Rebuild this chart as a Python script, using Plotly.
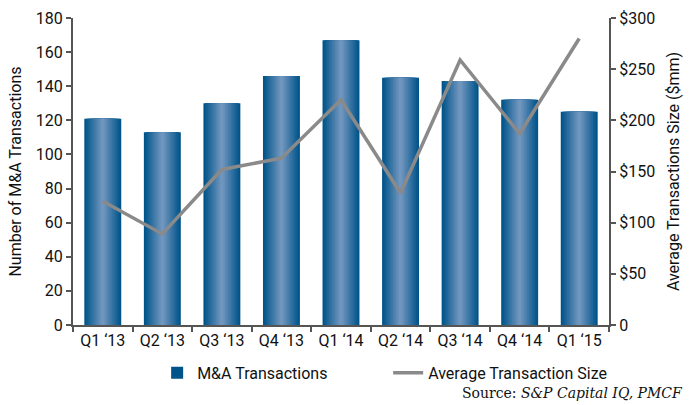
import plotly.graph_objects as go
from plotly.subplots import make_subplots

categories = ["Q1 \u201813", "Q2 \u201813", "Q3 \u201813", "Q4 \u201813", "Q1 \u201814",
              "Q2 \u201814", "Q3 \u201814", "Q4 \u201814", "Q1 \u201815"]
transactions = [121, 113, 130, 146, 167, 145, 143, 132, 125]
avg_size = [121, 89, 152, 163, 220, 129, 259, 187, 280]

left_ticks = [0, 20, 40, 60, 80, 100, 120, 140, 160, 180]
right_ticks = [0, 50, 100, 150, 200, 250, 300]
right_labels = ["0", "$50", "$100", "$150", "$200", "$250", "$300"]

FONT = "Roboto, sans-serif"

fig = make_subplots(specs=[[{"secondary_y": True}]])

dark = (0, 84, 138)
light = (112, 150, 190)
N = 12
W = 0.62
for i in range(N):
    t = i / (N - 1)
    c = tuple(round(dark[k] + (light[k] - dark[k]) * t) for k in range(3))
    fig.add_trace(go.Bar(
        x=categories, y=transactions,
        width=W * (1 - i / N),
        marker=dict(color="rgb(%d,%d,%d)" % c, line=dict(width=0)),
        name="M&A Transactions", showlegend=(i == 0), legendgroup="bars",
        hoverinfo="skip" if i else None,
    ), secondary_y=False)

fig.add_trace(go.Scatter(
    x=categories, y=avg_size, mode="lines",
    line=dict(color="#8a8a8a", width=3.5),
    name="Average Transaction Size",
), secondary_y=True)

fig.update_layout(
    width=700, height=405,
    margin=dict(l=73, r=91, t=18, b=80, autoexpand=False),
    barmode="overlay",
    plot_bgcolor="white", paper_bgcolor="white",
    font=dict(family=FONT, size=16, color="#111"),
    legend=dict(orientation="h", x=0.157, y=-0.156, xanchor="left", yanchor="middle",
                font=dict(size=16), entrywidth=186, entrywidthmode="pixels",
                traceorder="normal"),
    showlegend=True,
)

fig.update_xaxes(
    type="category", domain=[0, 1], showline=True, linecolor="#555", linewidth=2,
    ticks="outside", tickson="boundaries", ticklen=5, tickwidth=2, tickcolor="#555",
    showgrid=False, tickfont=dict(size=16), tickangle=0, automargin=False,
)
fig.update_yaxes(
    range=[0, 180], tickvals=left_ticks, showline=True, linecolor="#555", linewidth=2,
    ticks="outside", ticklen=5, tickwidth=2, tickcolor="#555", showgrid=False,
    zeroline=False, automargin=False,
    title=dict(text="Number of M&A Transactions", font=dict(size=16), standoff=10),
    secondary_y=False,
)
fig.update_yaxes(
    range=[0, 300], tickvals=right_ticks, ticktext=right_labels, showline=True,
    linecolor="#555", linewidth=2, ticks="outside", ticklen=5, tickwidth=2,
    tickcolor="#555", showgrid=False, zeroline=False, automargin=False,
    title=dict(text="Average Transactions Size ($mm)", font=dict(size=16), standoff=14),
    secondary_y=True,
)

fig.add_annotation(
    text="Source: <i>S&P Capital IQ, PMCF</i>", xref="paper", yref="paper",
    x=1.142, y=-0.2215, xanchor="right", yanchor="middle", showarrow=False,
    font=dict(family="DejaVu Serif, serif", size=14, color="#111"),
)

post = ("document.body.style.margin='0px';document.body.style.overflow='hidden';"
        "var gd=document.getElementById('{plot_id}');"
        "Plotly.relayout(gd,{width:700,height:405});")

fig.write_html("out.html", post_script=post, config={"displayModeBar": False})
